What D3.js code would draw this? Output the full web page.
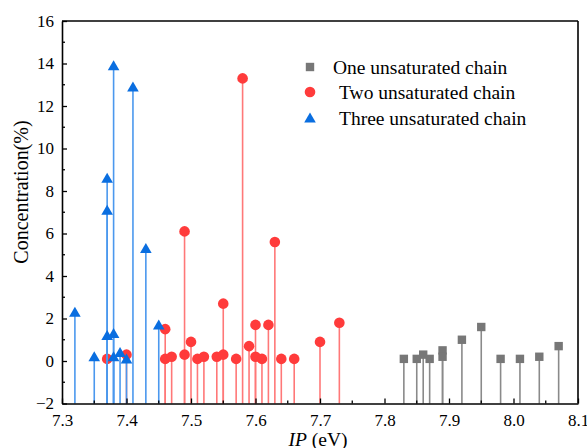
<!DOCTYPE html>
<html><head><meta charset="utf-8">
<script src="https://cdn.jsdelivr.net/npm/d3@7"></script>
<style>body{margin:0;background:#fff}svg{display:block}svg text{font-family:"Liberation Serif","Times New Roman",Times,serif}</style>
</head><body><svg id="c" width="587" height="448"></svg>
<script>
const oneIP   = [7.83,7.85,7.86,7.87,7.89,7.89,7.92,7.95,7.98,8.01,8.04,8.07];
const oneVal  = [0.1,0.1,0.3,0.1,0.5,0.2,1.0,1.6,0.1,0.1,0.2,0.7];
const twoIP   = [7.37,7.40,7.46,7.46,7.47,7.49,7.49,7.50,7.51,7.52,7.54,7.55,7.55,7.57,7.58,7.59,7.60,7.60,7.61,7.62,7.63,7.64,7.66,7.70,7.73];
const twoVal  = [0.1,0.3,1.5,0.1,0.2,6.1,0.3,0.9,0.1,0.2,0.2,2.7,0.3,0.1,13.3,0.7,1.7,0.2,0.1,1.7,5.6,0.1,0.1,0.9,1.8];
const threeIP = [7.32,7.35,7.37,7.37,7.37,7.38,7.38,7.38,7.39,7.40,7.41,7.43,7.45];
const threeVal= [2.3,0.2,8.6,7.1,1.2,13.9,1.3,0.2,0.4,0.1,12.9,5.3,1.7];
const xTicks = [7.3,7.4,7.5,7.6,7.7,7.8,7.9,8.0,8.1];
const yTicks = [-2,0,2,4,6,8,10,12,14,16];
const seriesNames = ["One unsaturated chain","Two unsaturated chain","Three unsaturated chain"];

const svg = d3.select("#c");
const L=62, R=578, T=21, B=403.5;
const x = d3.scaleLinear().domain([7.3,8.1]).range([L,R]);
const y = d3.scaleLinear().domain([-2,16]).range([B,T]);
const font = "Liberation Serif, Times New Roman, Times, serif";

const series = [
  {ip:oneIP, v:oneVal, color:"#777777", stem:"#8a8a8a", shape:"square"},
  {ip:twoIP, v:twoVal, color:"#ff3b3b", stem:"#ff7878", shape:"circle"},
  {ip:threeIP, v:threeVal, color:"#0a6ee0", stem:"#4b98ee", shape:"triangle"}
];
function marker(g, shape, cx, cy, color){
  if(shape==="square") g.append("rect").attr("x",cx-4.2).attr("y",cy-4.2).attr("width",8.4).attr("height",8.4).attr("fill",color);
  else if(shape==="circle") g.append("circle").attr("cx",cx).attr("cy",cy).attr("r",5.3).attr("fill",color);
  else g.append("path").attr("d",`M${cx},${cy-5.5}L${cx+5.8},${cy+4.5}L${cx-5.8},${cy+4.5}Z`).attr("fill",color);
}
const plot = svg.append("g");
series.forEach(s=>{
  const g = plot.append("g");
  s.ip.forEach((ip,i)=>{
    g.append("line").attr("x1",x(ip)).attr("x2",x(ip)).attr("y1",y(-2)).attr("y2",y(s.v[i]))
      .attr("stroke",s.stem).attr("stroke-width",1.6);
  });
  s.ip.forEach((ip,i)=>marker(g,s.shape,x(ip),y(s.v[i]),s.color));
});

// axes
const xAxis = d3.axisBottom(x).tickValues(xTicks).tickFormat(d3.format(".1f")).tickSizeInner(-5).tickSizeOuter(0).tickPadding(10);
const gx = svg.append("g").attr("transform",`translate(0,${B})`).call(xAxis);
const xMinor = d3.range(7.35,8.1,0.1);
svg.append("g").selectAll("line").data(xMinor).join("line")
  .attr("x1",d=>x(d)).attr("x2",d=>x(d)).attr("y1",B).attr("y2",B-3).attr("stroke","#000").attr("stroke-width",1.3);
const yAxis = d3.axisLeft(y).tickValues(yTicks).tickSizeInner(-5).tickSizeOuter(0).tickPadding(8);
const gy = svg.append("g").attr("transform",`translate(${L},0)`).call(yAxis);
const yMinor = d3.range(-1,16,2);
svg.append("g").selectAll("line").data(yMinor).join("line")
  .attr("x1",L).attr("x2",L+3).attr("y1",d=>y(d)).attr("y2",d=>y(d)).attr("stroke","#000").attr("stroke-width",1.3);
[gx,gy].forEach(g=>{
  g.attr("font-family",null).attr("font-size",null);
  g.selectAll(".domain").attr("stroke","#000").attr("stroke-width",1.6);
  g.selectAll(".tick line").attr("stroke","#000").attr("stroke-width",1.3);
  g.selectAll("text").style("font-family",font).style("font-size","17px").attr("fill","#000");
});
gx.selectAll("text").attr("dy","0.71em");
// box
svg.append("line").attr("x1",L).attr("x2",R).attr("y1",T).attr("y2",T).attr("stroke","#000").attr("stroke-width",1.6);
svg.append("line").attr("x1",R).attr("x2",R).attr("y1",T).attr("y2",B).attr("stroke","#000").attr("stroke-width",1.6);

// titles
const xt = svg.append("text").attr("x",318).attr("y",445.5).attr("text-anchor","middle")
  .style("font-family",font).style("font-size","19.5px");
xt.append("tspan").attr("font-style","italic").text("IP");
xt.append("tspan").text(" (eV)");
svg.append("text").attr("transform","translate(28,192) rotate(-90)").attr("text-anchor","middle")
  .style("font-family",font).style("font-size","20px").text("Concentration(%)");

// legend
const lg = svg.append("g");
const legY=[67,92,118], legTX=[333,339,339];
series.forEach((s,i)=>{
  marker(lg,s.shape,310,legY[i],s.color);
  lg.append("text").attr("x",legTX[i]).attr("y",legY[i]).attr("dy","0.35em")
    .style("font-family",font).style("font-size","19.5px").text(seriesNames[i]);
});
</script></body></html>
